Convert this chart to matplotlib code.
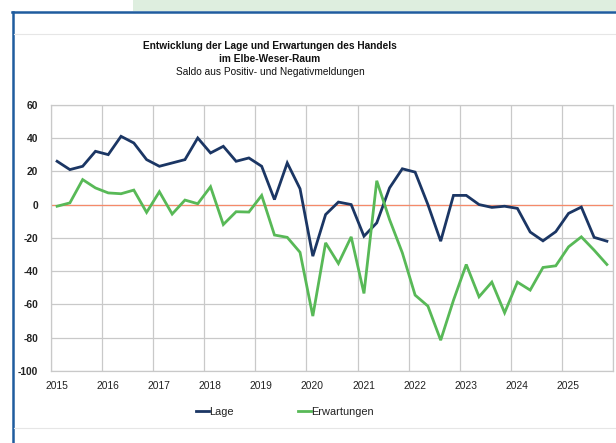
import matplotlib
matplotlib.use("Agg")
import matplotlib.pyplot as plt
from matplotlib.lines import Line2D
from matplotlib.patches import Rectangle
from matplotlib.transforms import ScaledTranslation
import numpy as np

plt.rcParams['font.family'] = ['Liberation Sans', 'DejaVu Sans']
plt.rcParams['axes.unicode_minus'] = False

years = list(range(2015, 2026))
quarters_per_year = 4
lage = [26, 21, 23, 32, 30, 41, 37, 27, 23, 25, 27, 40,
        31, 35, 26, 28, 23, 3, 25, 9.5, -31, -6, 1.5, 0,
        -19, -11, 10, 21.5, 19.5, 0, -22, 5.5, 5.5, 0, -1.7, -1,
        -2.3, -16.5, -21.8, -16.3, -5.3, -1.5, -19.7, -22]
erwartungen = [-1, 1, 15, 10, 7, 6.5, 8.7, -4.7, 7.7, -5.7, 2.7, 0.5,
               10.7, -12, -4.3, -4.5, 5.5, -18.3, -19.7, -28.7, -67, -23, -35.4, -19.4,
               -53.4, 14.3, -9, -29, -54.4, -61, -81.5, -57.5, -36, -55.4, -46.6, -65,
               -46.6, -51.4, -37.8, -36.8, -25.4, -19.4, -27.4, -36]
series_names = ["Lage", "Erwartungen"]
title_lines = ["Entwicklung der Lage und Erwartungen des Handels",
               "im Elbe-Weser-Raum",
               "Saldo aus Positiv- und Negativmeldungen"]

x = np.array([years[0] + (i + 0.5) / quarters_per_year for i in range(len(lage))])

W, H = 616, 443
fig = plt.figure(figsize=(W / 100, H / 100), dpi=100)

# decorative frame
fig.add_artist(Rectangle((133 / W, 1 - 11 / H), 1 - 133 / W, 11 / H,
                         transform=fig.transFigure, color='#deeedf', lw=0, zorder=0))
fig.add_artist(Line2D([12 / W, 1], [1 - 12 / H, 1 - 12 / H], transform=fig.transFigure,
                      color='#1f5c9e', lw=1.8))
fig.add_artist(Line2D([13 / W, 13 / W], [0, 1 - 12 / H], transform=fig.transFigure,
                      color='#1f5c9e', lw=1.8))
fig.add_artist(Line2D([14 / W, 1], [1 - 34 / H, 1 - 34 / H], transform=fig.transFigure,
                      color='#e6e6e6', lw=0.8))
fig.add_artist(Line2D([14 / W, 1], [1 - 428 / H, 1 - 428 / H], transform=fig.transFigure,
                      color='#e6e6e6', lw=0.8))

left, right = 50.7 / W, 613.3 / W
bottom, top = 1 - 371 / H, 1 - 104.7 / H
ax = fig.add_axes([left, bottom, right - left, top - bottom])

ax.plot(x, lage, color='#1b3664', lw=2.0, solid_joinstyle='miter', zorder=3, label=series_names[0])
ax.plot(x, erwartungen, color='#58b957', lw=2.0, solid_joinstyle='miter', zorder=3, label=series_names[1])
ax.axhline(0, color='#f58a6a', lw=0.9, zorder=2)

ax.set_xlim(2015, 2026)
ax.set_ylim(-100, 60)
ax.set_yticks(np.arange(-100, 61, 20))
ax.set_xticks(years + [2026])
ax.set_xticklabels([str(y) for y in years] + [""])
ax.grid(True, color='#c9c9c9', lw=0.9)
ax.set_axisbelow(True)
for s in ax.spines.values():
    s.set_color('#c9c9c9')
    s.set_linewidth(0.9)
ax.tick_params(axis='both', length=0, labelsize=7.4, colors='#222222')
ax.tick_params(axis='x', pad=7)
ax.tick_params(axis='y', pad=9)
for lab in ax.get_yticklabels():
    lab.set_fontweight('bold')
off = ScaledTranslation(6 / 100, 0, fig.dpi_scale_trans)
for lab in ax.get_xticklabels():
    lab.set_transform(lab.get_transform() + off)

# titles
fig.text(270 / W, 1 - 45.7 / H, title_lines[0], ha='center', va='center', fontsize=7.3,
         fontweight='bold', color='#111111')
fig.text(270 / W, 1 - 59 / H, title_lines[1], ha='center', va='center', fontsize=7.3,
         fontweight='bold', color='#111111')
fig.text(270 / W, 1 - 72.3 / H, title_lines[2], ha='center', va='center', fontsize=7.3,
         color='#111111')

# legend
handles = [Line2D([], [], color='#1b3664', lw=2.0), Line2D([], [], color='#58b957', lw=2.0)]
leg = fig.legend(handles, series_names, loc='center', bbox_to_anchor=(285 / W, 1 - 412.3 / H),
                 ncol=2, frameon=False, fontsize=7.9, handlelength=1.15, handletextpad=0.05,
                 columnspacing=5.9, borderpad=0, borderaxespad=0)
for t in leg.get_texts():
    t.set_color('#222222')

fig.savefig('out.png', dpi=100)
